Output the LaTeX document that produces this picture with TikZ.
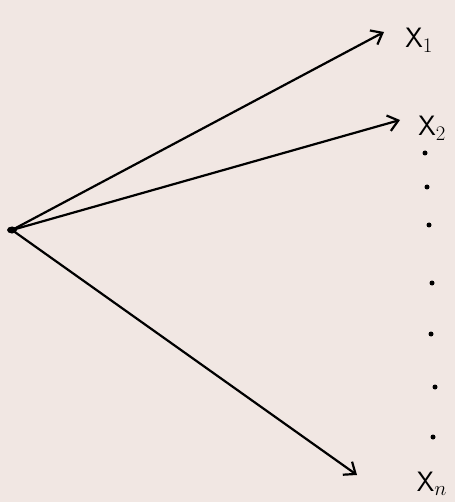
\documentclass[tikz,border=0pt]{standalone}
\usetikzlibrary{arrows.meta}
\definecolor{paper}{HTML}{F1E7E3}
\tikzset{
    branch/.style={line width=2.2pt, -{Straight Barb[length=10pt,width=16pt,line width=2.2pt]}},
    xlabel/.style={font=\fontsize{28}{30}\selectfont\sffamily, inner sep=0pt},
    dotmark/.style={circle, fill=black, inner sep=0pt, minimum size=5pt}
}
\begin{document}
\begin{tikzpicture}[x=1pt,y=-1pt]
\fill[paper] (0,0) rectangle (455,502);
\useasboundingbox (0,0) rectangle (455,502);
\coordinate (o) at (12,230);
\fill (o) ellipse (5pt and 3.5pt);
% arrow ends
\coordinate (t1) at (384,32);
\coordinate (t2) at (400,120);
\coordinate (tn) at (357,475);
\node[xlabel] (x1) at (419,40) {X$_{1}$};
\node[xlabel] (x2) at (432,128) {X$_{2}$};
\node[xlabel] (xn) at (432,484) {X$_{n}$};
\draw[branch] (o) -- (t1);
\draw[branch] (o) -- (t2);
\draw[branch] (o) -- (tn);
% vertical dots
\foreach \px/\py [count=\i] in {425/153,427/187,429/225,432/283,431/334,435/387,433/437}
  \node[dotmark] (d\i) at (\px,\py) {};
\end{tikzpicture}
\end{document}
